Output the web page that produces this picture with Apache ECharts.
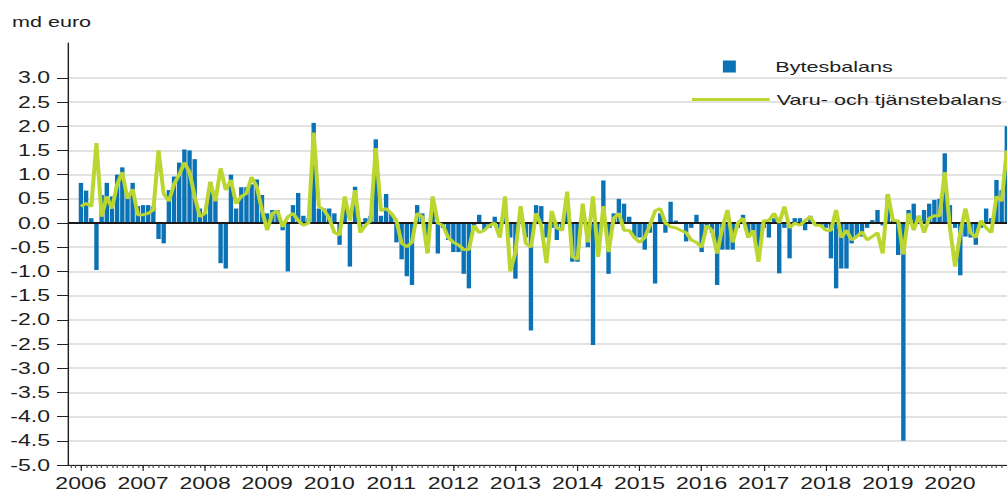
<!DOCTYPE html>
<html><head><meta charset="utf-8">
<script src="https://cdn.jsdelivr.net/npm/echarts@6/dist/echarts.min.js"></script>
<style>
html,body{margin:0;padding:0;background:#fff;overflow:hidden}
#wrap{width:1007px;height:494px;overflow:hidden}
#chart{width:700px;height:494px;transform:scaleX(1.43857);transform-origin:0 0}
</style></head><body><div id="wrap"><div id="chart"></div></div>
<script>
// ---- data ----
const years = [2006,2007,2008,2009,2010,2011,2012,2013,2014,2015,2016,2017,2018,2019,2020];
const monthCodes = ['01','02','03','04','05','06','07','08','09','10','11','12'];
const padMonths = ['2005-11','2005-12'];
const yTicks = [-5,-4.5,-4,-3.5,-3,-2.5,-2,-1.5,-1,-0.5,0,0.5,1,1.5,2,2.5,3];
const unitLabel = 'md euro';
const seriesNames = ['Bytesbalans','Varu- och tjänstebalans'];

const bytesbalans = [
  0.83, 0.67, 0.10,-0.97, 0.58, 0.83, 0.55, 1.00, 1.15, 0.60, 0.83, 0.35, // 2006
  0.37, 0.37, 0.34,-0.33,-0.42, 0.68, 0.96, 1.25, 1.52, 1.50, 1.32, 0.30, // 2007
  0.20, 0.85, 0.50,-0.83,-0.94, 1.00, 0.30, 0.74, 0.74, 0.80, 0.90, 0.58, // 2008
  0.20, 0.27, 0.27,-0.15,-1.00, 0.37, 0.62, 0.15, 0.10, 2.07, 0.30, 0.30, // 2009
  0.30, 0.20,-0.45, 0.40,-0.90, 0.75,-0.10, 0.10, 0.15, 1.73, 0.15, 0.60, // 2010
  0.20,-0.40,-0.75,-1.10,-1.28, 0.37, 0.20,-0.60, 0.50,-0.63,-0.10,-0.35, // 2011
 -0.60,-0.60,-1.05,-1.35,-0.10, 0.17,-0.15,-0.10, 0.13,-0.20, 0.15,-0.30, // 2012
 -1.15, 0.20,-0.30,-2.22, 0.37, 0.35,-0.30,-0.10,-0.35,-0.15, 0.35,-0.80, // 2013
 -0.80, 0.20,-0.50,-2.52,-0.30, 0.88,-1.05, 0.20, 0.50, 0.40, 0.13,-0.30, // 2014
 -0.30,-0.55,-0.20,-1.25, 0.20,-0.20, 0.44, 0.05, 0.00,-0.38,-0.10, 0.17, // 2015
 -0.60,-0.10,-0.20,-1.28,-0.55,-0.55,-0.55,-0.10, 0.17,-0.30,-0.20,-0.50, // 2016
 -0.10,-0.30, 0.10,-1.04,-0.10,-0.73, 0.10, 0.10,-0.15, 0.15, 0.00,-0.05, // 2017
 -0.10,-0.73,-1.35,-0.94,-0.94,-0.42,-0.28,-0.28,-0.10, 0.06, 0.27,-0.05, // 2018
  0.58, 0.05,-0.66,-4.50, 0.27, 0.40, 0.15, 0.27, 0.40, 0.48, 0.50, 1.44, // 2019
  0.37,-0.10,-1.08,-0.28,-0.30,-0.45,-0.10, 0.30, 0.10, 0.89, 0.68, 2.00  // 2020
];
const varuTjanstebalans = [
  0.34, 0.41, 0.34, 1.65, 0.13, 0.55, 0.30, 0.80, 1.05, 0.50, 0.70, 0.17, // 2006
  0.17, 0.20, 0.27, 1.50, 0.60, 0.45, 0.80, 1.00, 1.25, 1.05, 0.55, 0.13, // 2007
  0.20, 0.85, 0.45, 1.13, 0.68, 0.89, 0.40, 0.55, 0.61, 0.95, 0.75, 0.27, // 2008
 -0.15, 0.20, 0.25,-0.08, 0.13, 0.20, 0.05,-0.05, 0.00, 1.87, 0.34, 0.27, // 2009
  0.10,-0.20,-0.25, 0.55, 0.05, 0.68,-0.20,-0.05, 0.05, 1.55, 0.25, 0.30, // 2010
  0.20, 0.05,-0.42,-0.49,-0.40, 0.20, 0.13,-0.63, 0.55, 0.00,-0.05,-0.30, // 2011
 -0.40,-0.45,-0.55,-0.55,-0.05,-0.20,-0.15,-0.05, 0.00,-0.30, 0.55,-1.00, // 2012
 -0.60, 0.35,-0.42,-0.50, 0.20,-0.05,-0.83, 0.25,-0.10,-0.15, 0.65,-0.70, // 2013
 -0.75, 0.40,-0.40, 0.55,-0.70, 0.35,-0.60, 0.10, 0.20,-0.15,-0.15,-0.30, // 2014
 -0.40,-0.30,-0.05, 0.25, 0.30, 0.00,-0.08,-0.10,-0.15,-0.20,-0.35,-0.40, // 2015
 -0.50,-0.05,-0.15,-0.63,-0.10, 0.27,-0.40, 0.00, 0.10,-0.30,-0.15,-0.80, // 2016
  0.05, 0.05, 0.20, 0.00, 0.34,-0.10, 0.00,-0.05, 0.05, 0.13,-0.05,-0.05, // 2017
 -0.15,-0.15, 0.27,-0.30,-0.15,-0.35,-0.28,-0.18,-0.35,-0.28,-0.20,-0.63, // 2018
  0.60, 0.05, 0.05,-0.65, 0.20,-0.15, 0.15,-0.20, 0.10, 0.15, 0.15, 1.05, // 2019
 -0.10,-0.90,-0.20, 0.30,-0.20,-0.30, 0.05,-0.10,-0.20, 0.55, 0.45, 1.50  // 2020
];

// ---- build ----
const categories = padMonths.concat(years.flatMap(y => monthCodes.map(m => y + '-' + m)));
const padVals = padMonths.map(() => null);
const barData = padVals.concat(bytesbalans);
const lineData = padVals.concat(varuTjanstebalans);
const isJan = (i, v) => typeof v === 'string' && v.slice(5) === '01';

const FONT = '"Liberation Sans", Arial, sans-serif';
const BLUE = '#0b72b5';
const GREEN = '#bcd631';
const TXT = '#1e1e1e';

const chart = echarts.init(document.getElementById('chart'), null, {renderer: 'svg'});
chart.setOption({
  animation: false,
  backgroundColor: '#fff',
  textStyle: {fontFamily: FONT},
  title: {text: unitLabel, left: 8.3, top: 14, padding: 0,
    textStyle: {fontSize: 15, fontWeight: 'normal', color: TXT, fontFamily: FONT}},
  legend: [
    {data: [{name: seriesNames[0], icon: 'path://M0,0H3V4H0Z', itemStyle: {color: BLUE}}],
     left: 502.5, top: 59, orient: 'vertical', itemWidth: 54, itemHeight: 12, symbolKeepAspect: true,
     padding: 0, selectedMode: false, textStyle: {fontSize: 15, color: TXT, fontFamily: FONT}},
    {data: [{name: seriesNames[1], icon: 'path://M0,0H36V2H0Z', itemStyle: {color: GREEN}}],
     left: 481, top: 92, orient: 'vertical', itemWidth: 54, itemHeight: 12, symbolKeepAspect: true,
     padding: 0, selectedMode: false, textStyle: {fontSize: 15, color: TXT, fontFamily: FONT}}
  ],
  grid: {left: 47.27, top: 43, width: 654.4, bottom: 29, containLabel: false, outerBoundsMode: 'none'},
  xAxis: [
    {type: 'category', data: categories, boundaryGap: true,
     axisLine: {show: true, onZero: false, lineStyle: {color: '#222', width: 1}},
     axisTick: {show: true, interval: 0, alignWithLabel: true, length: 3, lineStyle: {color: '#444', width: 0.8}},
     axisLabel: {show: false}, splitLine: {show: false}},
    {type: 'category', data: categories, boundaryGap: true, position: 'bottom',
     axisLine: {show: false, onZero: false},
     axisTick: {show: true, interval: isJan, alignWithLabel: true, length: 6, lineStyle: {color: '#222', width: 0.8}},
     axisLabel: {show: true, interval: isJan, formatter: v => v.slice(0, 4), fontSize: 16, color: TXT, margin: 10, fontFamily: FONT},
     splitLine: {show: false}}
  ],
  yAxis: {type: 'value', min: -5, max: 3.72,
    axisLine: {show: true, lineStyle: {color: '#222', width: 1}},
    axisTick: {show: true, length: 7.6, customValues: yTicks, lineStyle: {color: '#222'}},
    axisLabel: {customValues: yTicks, formatter: v => v.toFixed(1), fontSize: 16, color: TXT, margin: 12.5, fontFamily: FONT},
    splitLine: {show: true, lineStyle: {color: '#e2e2e2', width: 2}}},
  series: [
    {name: seriesNames[0], type: 'bar', xAxisIndex: 0, data: barData, color: BLUE,
     itemStyle: {color: BLUE}, barCategoryGap: '15%',
     markLine: {silent: true, symbol: 'none', label: {show: false},
       lineStyle: {color: '#1a1a1a', width: 2, type: 'solid'}, data: [{yAxis: 0}]}},
    {name: seriesNames[1], type: 'line', xAxisIndex: 0, data: lineData, color: GREEN,
     symbol: 'none', showSymbol: false, connectNulls: false,
     lineStyle: {color: GREEN, width: 2.8}, z: 5}
  ]
});
</script>
</body></html>
